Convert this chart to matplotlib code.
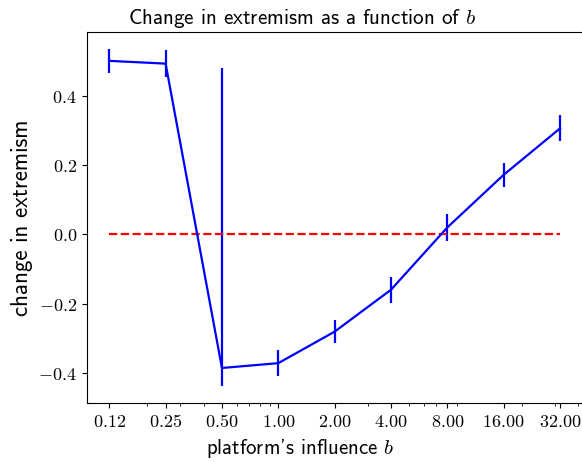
import numpy as np
import matplotlib
matplotlib.use("Agg")
import matplotlib.pyplot as plt
from matplotlib.ticker import FixedLocator, FuncFormatter, NullFormatter, LogLocator

plt.rcParams['mathtext.fontset'] = 'cm'
plt.rcParams['axes.unicode_minus'] = True

# platform influence values and mean change in extremism
b_values = [0.125, 0.25, 0.5, 1.0, 2.0, 4.0, 8.0, 16.0, 32.0]
change = [0.501, 0.493, -0.386, -0.372, -0.281, -0.160, 0.020, 0.172, 0.306]
err_low = [0.035, 0.040, 0.052, 0.038, 0.033, 0.037, 0.038, 0.035, 0.036]
err_high = [0.035, 0.040, 0.867, 0.038, 0.033, 0.037, 0.040, 0.035, 0.038]

fig = plt.figure(figsize=(5.82, 4.62), dpi=100)
ax = fig.add_axes([0.149, 0.128, 0.852, 0.803])

ax.errorbar(b_values, change, yerr=[err_low, err_high], color="blue",
            capsize=0, linewidth=1.6, elinewidth=1.6)
ax.plot([b_values[0], b_values[-1]], [0, 0], color="red", linestyle="--", linewidth=1.6)

ax.set_xscale("log")
ax.xaxis.set_major_locator(FixedLocator(b_values))
ax.xaxis.set_major_formatter(FuncFormatter(lambda v, p: "$%.2f$" % v))
ax.xaxis.set_minor_locator(LogLocator(base=10, subs=np.arange(2, 10)))
ax.xaxis.set_minor_formatter(NullFormatter())
ax.set_yticks([-0.4, -0.2, 0.0, 0.2, 0.4])
ax.yaxis.set_major_formatter(FuncFormatter(lambda v, p: "$%.1f$" % v))
ax.tick_params(labelsize=13)

ax.set_title(r"Change in extremism as a function of $b$", fontsize=15.2,
             family="cmss10", x=0.434)
ax.set_xlabel(r"platform's influence $b$", fontsize=15, family="cmss10")
ax.xaxis.set_label_coords(0.43, -0.093)
ax.set_ylabel("change in extremism", fontsize=16.5, family="cmss10")

fig.savefig("out.png", dpi=100)
